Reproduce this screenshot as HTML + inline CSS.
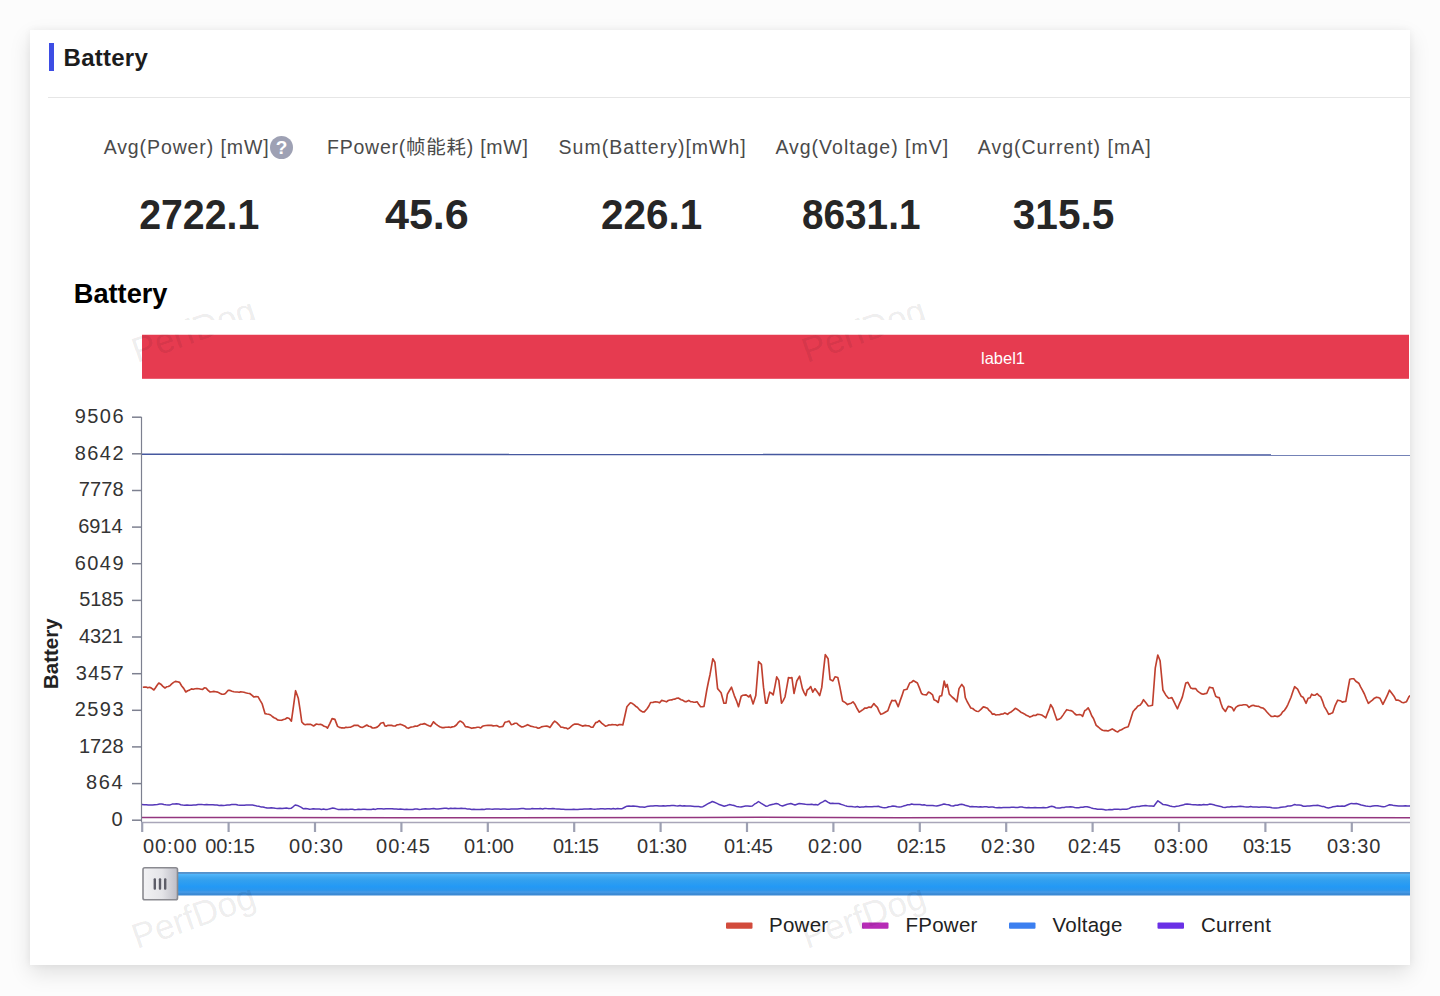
<!DOCTYPE html>
<html><head><meta charset="utf-8"><title>Battery</title>
<style>
*{box-sizing:border-box;margin:0;padding:0}
html,body{width:1440px;height:996px;overflow:hidden;background:#fcfcfc;font-family:"Liberation Sans","Noto Sans CJK SC",sans-serif}
.card{position:absolute;left:30px;top:30px;width:1380px;height:935px;background:#fff;box-shadow:0 8px 20px rgba(0,0,0,0.115),0 0 7px rgba(0,0,0,0.05);overflow:hidden}
.inner{position:absolute;left:-30px;top:-30px;width:1440px;height:996px}
.bar{position:absolute;left:48.5px;top:42.6px;width:5px;height:28.9px;background:#3d4de4}
.h1{position:absolute;left:63.6px;top:41.5px;font-size:24px;font-weight:bold;color:#1c1c1c;letter-spacing:0.25px;line-height:32px;white-space:nowrap}
.sep{position:absolute;left:48px;top:96.5px;width:1400px;height:1.5px;background:#e6e6e6}
.stat{position:absolute;top:0;width:300px;margin-left:-150px;text-align:center}
.stat .l{position:absolute;left:1.4px;right:-1.4px;top:134px;font-size:19.5px;line-height:26px;color:#4a4a4a;white-space:nowrap;letter-spacing:1px}
.stat .v{position:absolute;left:0;right:0;top:191px;font-size:42px;line-height:48px;font-weight:bold;color:#262626;white-space:nowrap}
.vs{display:inline-block;transform-origin:50% 50%}
.q{position:absolute;left:270px;top:135.5px;width:23px;height:23px;border-radius:50%;background:#9ea1b4;color:#fff;font-size:19px;line-height:23px;font-weight:bold;text-align:center}
.chart{position:absolute;left:0;top:0}
.chart text{font-family:"Liberation Sans",sans-serif}
.ct{font-size:27.2px;font-weight:bold;fill:#000}
.lb{font-size:16.5px;fill:#fff}
.yn{font-size:20.5px;font-weight:bold;fill:#222}
.yl{font-size:20px;fill:#333}
.xl{font-size:20px;fill:#333}
.ax{stroke:#7d8090;stroke-width:1.2}
.tk{stroke:#7d8090;stroke-width:1.5}
.xax{stroke:#a9a6b9;stroke-width:1.6}
.xtk{stroke:#9da0b2;stroke-width:2.2}
.lg{font-size:20.5px;fill:#222;letter-spacing:0.25px}
.wm{font-size:35px;fill:rgba(0,0,0,0.085)}
</style></head><body>
<div class="card"><div class="inner">
<div class="bar"></div>
<div class="h1">Battery</div>
<div class="sep"></div>
<div class="stat" style="left:199px"><div class="l" style="letter-spacing:0.9px;left:-12.4px;right:12.4px">Avg(Power) [mW]</div><div class="v"><span class="vs" style="transform:scaleX(0.9355)">2722.1</span></div></div>
<div class="q">?</div>
<div class="stat" style="left:426.5px"><div class="l" style="letter-spacing:0.75px">FPower(帧能耗) [mW]</div><div class="v"><span class="vs" style="transform:scaleX(1.026)">45.6</span></div></div>
<div class="stat" style="left:651.3px"><div class="l">Sum(Battery)[mWh]</div><div class="v"><span class="vs" style="transform:scaleX(0.963)">226.1</span></div></div>
<div class="stat" style="left:860.9px"><div class="l">Avg(Voltage) [mV]</div><div class="v"><span class="vs" style="transform:scaleX(0.922)">8631.1</span></div></div>
<div class="stat" style="left:1063.3px"><div class="l">Avg(Current) [mA]</div><div class="v"><span class="vs" style="transform:scaleX(0.967)">315.5</span></div></div>
<svg class="chart" width="1440" height="996" viewBox="0 0 1440 996">
<text x="73.8" y="302.6" class="ct">Battery</text>
<rect x="142" y="334.5" width="1267" height="44.3" fill="#e63b50"/>
<text x="1003" y="364" class="lb" text-anchor="middle">label1</text>
<text transform="translate(57.6 689) rotate(-90)" class="yn">Battery</text>
<line x1="141.5" y1="417" x2="141.5" y2="822" class="ax"/>
<line x1="132" y1="820.2" x2="141.5" y2="820.2" class="tk"/><text x="111.40" y="826.0" class="yl" textLength="16.80" lengthAdjust="spacing">0</text><line x1="132" y1="783.6" x2="141.5" y2="783.6" class="tk"/><text x="86.10" y="789.4" class="yl" textLength="36.40" lengthAdjust="spacing">864</text><line x1="132" y1="746.9" x2="141.5" y2="746.9" class="tk"/><text x="78.90" y="752.7" class="yl" textLength="44.60" lengthAdjust="spacing">1728</text><line x1="132" y1="710.3" x2="141.5" y2="710.3" class="tk"/><text x="74.70" y="716.1" class="yl" textLength="48.80" lengthAdjust="spacing">2593</text><line x1="132" y1="673.7" x2="141.5" y2="673.7" class="tk"/><text x="75.70" y="679.5" class="yl" textLength="47.80" lengthAdjust="spacing">3457</text><line x1="132" y1="637.0" x2="141.5" y2="637.0" class="tk"/><text x="79.10" y="642.8" class="yl" textLength="44.00" lengthAdjust="spacing">4321</text><line x1="132" y1="600.4" x2="141.5" y2="600.4" class="tk"/><text x="79.30" y="606.2" class="yl" textLength="44.20" lengthAdjust="spacing">5185</text><line x1="132" y1="563.7" x2="141.5" y2="563.7" class="tk"/><text x="74.70" y="569.5" class="yl" textLength="48.80" lengthAdjust="spacing">6049</text><line x1="132" y1="527.1" x2="141.5" y2="527.1" class="tk"/><text x="78.30" y="532.9" class="yl" textLength="44.20" lengthAdjust="spacing">6914</text><line x1="132" y1="490.5" x2="141.5" y2="490.5" class="tk"/><text x="78.70" y="496.3" class="yl" textLength="44.80" lengthAdjust="spacing">7778</text><line x1="132" y1="453.8" x2="141.5" y2="453.8" class="tk"/><text x="74.70" y="459.6" class="yl" textLength="48.80" lengthAdjust="spacing">8642</text><line x1="132" y1="417.2" x2="141.5" y2="417.2" class="tk"/><text x="74.70" y="423.0" class="yl" textLength="48.80" lengthAdjust="spacing">9506</text>
<line x1="141.5" y1="822.5" x2="1420" y2="822.5" class="xax"/>
<line x1="142.2" y1="822" x2="142.2" y2="832" class="xtk"/><text x="142.90" y="853.3" class="xl" textLength="53.80" lengthAdjust="spacing">00:00</text><line x1="228.6" y1="822" x2="228.6" y2="832" class="xtk"/><text x="205.30" y="853.3" class="xl" textLength="49.60" lengthAdjust="spacing">00:15</text><line x1="315.0" y1="822" x2="315.0" y2="832" class="xtk"/><text x="289.10" y="853.3" class="xl" textLength="53.80" lengthAdjust="spacing">00:30</text><line x1="401.4" y1="822" x2="401.4" y2="832" class="xtk"/><text x="376.10" y="853.3" class="xl" textLength="53.80" lengthAdjust="spacing">00:45</text><line x1="487.8" y1="822" x2="487.8" y2="832" class="xtk"/><text x="464.10" y="853.3" class="xl" textLength="49.80" lengthAdjust="spacing">01:00</text><line x1="574.2" y1="822" x2="574.2" y2="832" class="xtk"/><text x="553.10" y="853.3" class="xl" textLength="45.80" lengthAdjust="spacing">01:15</text><line x1="660.6" y1="822" x2="660.6" y2="832" class="xtk"/><text x="637.10" y="853.3" class="xl" textLength="49.80" lengthAdjust="spacing">01:30</text><line x1="747.0" y1="822" x2="747.0" y2="832" class="xtk"/><text x="724.10" y="853.3" class="xl" textLength="48.80" lengthAdjust="spacing">01:45</text><line x1="833.4" y1="822" x2="833.4" y2="832" class="xtk"/><text x="808.10" y="853.3" class="xl" textLength="53.80" lengthAdjust="spacing">02:00</text><line x1="919.8" y1="822" x2="919.8" y2="832" class="xtk"/><text x="897.10" y="853.3" class="xl" textLength="48.80" lengthAdjust="spacing">02:15</text><line x1="1006.2" y1="822" x2="1006.2" y2="832" class="xtk"/><text x="981.10" y="853.3" class="xl" textLength="53.80" lengthAdjust="spacing">02:30</text><line x1="1092.6" y1="822" x2="1092.6" y2="832" class="xtk"/><text x="1068.10" y="853.3" class="xl" textLength="52.80" lengthAdjust="spacing">02:45</text><line x1="1179.0" y1="822" x2="1179.0" y2="832" class="xtk"/><text x="1154.10" y="853.3" class="xl" textLength="53.80" lengthAdjust="spacing">03:00</text><line x1="1265.4" y1="822" x2="1265.4" y2="832" class="xtk"/><text x="1243.10" y="853.3" class="xl" textLength="48.20" lengthAdjust="spacing">03:15</text><line x1="1351.8" y1="822" x2="1351.8" y2="832" class="xtk"/><text x="1326.90" y="853.3" class="xl" textLength="53.40" lengthAdjust="spacing">03:30</text>
<polyline points="142.0,454.2 1412.0,455.0" fill="none" stroke="#46589f" stroke-width="1.5"/>
<polyline points="142.0,817.4 400.0,817.8 700.0,817.6 760.0,817.2 900.0,817.8 1160.0,817.4 1412.0,817.8" fill="none" stroke="#93357f" stroke-width="1.5"/>
<polyline points="142.0,804.6 144.1,804.7 146.2,804.8 148.3,805.1 150.4,804.9 152.5,805.0 154.9,804.7 157.4,804.4 159.8,804.0 161.9,804.1 163.9,804.5 165.9,804.8 168.0,805.0 170.1,804.9 172.2,804.1 174.4,803.9 176.5,803.8 178.6,803.9 180.7,804.7 182.7,805.0 184.8,805.2 187.0,804.9 189.2,805.3 191.4,805.3 193.7,805.0 195.9,804.9 198.1,804.5 200.3,804.4 202.5,804.6 204.6,804.7 206.7,804.5 208.7,804.7 210.8,804.8 212.9,804.7 215.0,805.1 217.1,805.1 219.1,805.4 221.2,805.3 223.3,805.4 225.4,805.3 227.5,805.0 229.6,804.9 231.7,804.6 233.8,804.6 235.9,804.6 237.9,805.1 240.0,805.2 242.1,805.2 244.2,805.2 246.3,805.0 248.4,805.0 250.4,805.1 252.5,805.1 254.6,805.4 256.7,806.0 258.8,806.2 260.8,806.9 262.9,807.0 265.0,807.5 267.1,807.9 269.2,808.0 271.2,807.7 273.3,808.0 275.4,808.3 277.6,808.5 279.9,808.3 282.1,808.6 284.3,808.2 286.5,808.0 288.8,808.4 291.0,808.3 293.1,806.8 295.2,805.0 298.3,805.8 300.9,807.1 303.5,808.8 305.5,808.6 307.5,808.8 309.5,809.2 311.5,809.1 313.5,808.8 315.5,808.9 317.5,808.9 319.5,808.9 321.5,809.4 323.5,809.1 325.5,809.4 327.5,809.4 330.1,808.7 332.7,808.1 335.3,808.6 337.9,809.4 340.0,809.5 342.1,809.2 344.2,809.5 346.2,809.2 348.3,809.4 350.4,809.2 352.5,809.3 354.6,809.7 356.7,809.6 358.8,809.3 360.9,809.6 362.9,809.2 365.0,809.3 367.1,809.6 369.2,809.4 371.3,809.4 373.4,808.9 375.4,809.4 377.5,808.8 379.6,808.7 381.7,808.8 383.8,809.0 385.9,808.7 387.9,808.8 390.0,808.7 392.1,808.7 394.2,809.1 396.2,808.9 398.3,809.2 400.4,809.1 402.5,809.2 404.6,809.5 406.6,809.3 408.7,809.4 410.8,809.4 412.9,809.6 415.0,809.1 417.1,809.0 419.2,809.4 421.2,809.3 423.3,808.9 425.4,808.8 427.5,809.0 429.6,809.1 431.7,808.8 433.8,808.5 435.9,809.0 438.0,808.9 440.1,808.7 442.3,808.5 444.4,808.3 446.5,808.2 448.6,808.8 450.7,808.3 452.8,808.6 454.9,808.3 457.0,808.6 459.1,808.4 461.2,808.3 463.3,808.4 465.4,808.5 467.5,809.1 469.6,808.9 471.7,809.4 473.8,809.2 475.9,809.4 477.9,809.6 480.0,809.4 482.1,809.2 484.2,809.5 486.3,809.1 488.3,808.9 490.4,809.1 492.5,809.2 494.6,808.9 496.7,809.0 498.7,809.1 500.8,809.2 502.9,808.9 505.0,809.0 507.1,809.3 509.1,809.3 511.2,809.1 513.3,809.0 515.4,809.1 517.5,809.0 519.6,808.7 521.6,808.6 523.7,808.6 525.8,809.1 527.9,808.9 530.0,809.1 532.1,808.5 534.1,808.8 536.2,808.7 538.3,808.8 540.4,808.5 542.5,808.9 544.6,808.4 546.6,808.6 548.7,808.7 550.8,808.8 552.9,808.5 555.0,808.8 557.1,808.9 559.1,809.1 561.2,809.3 563.3,809.2 565.4,809.4 567.5,809.5 569.6,809.6 571.6,809.5 573.7,809.2 575.8,809.4 577.9,809.4 580.0,809.2 582.1,809.2 584.1,809.0 586.2,809.1 588.3,809.0 590.4,808.7 592.5,809.0 594.6,809.2 596.6,809.1 598.7,808.9 600.8,808.8 602.9,808.7 605.0,808.9 607.1,808.8 609.2,808.7 611.2,809.0 613.3,808.5 615.4,808.9 617.5,808.5 619.6,808.8 621.7,808.8 624.3,807.5 626.9,806.2 629.0,806.0 631.0,806.2 633.1,806.0 635.4,806.3 637.7,806.6 640.0,807.0 642.3,806.9 644.6,807.3 646.7,806.6 648.7,806.3 650.8,806.0 652.9,806.1 655.0,805.8 657.1,805.7 659.1,806.1 661.2,806.0 663.3,805.8 665.4,806.0 667.5,805.7 669.6,805.8 671.7,805.5 673.7,805.6 675.8,805.8 677.9,805.9 680.0,805.6 682.1,805.9 684.2,805.7 686.2,805.9 688.3,805.9 690.4,805.9 692.5,806.2 694.6,806.5 696.7,806.6 698.7,806.6 700.8,806.9 702.9,806.7 705.2,805.3 707.6,803.9 709.9,802.8 712.3,801.5 714.4,802.3 716.4,803.1 718.5,804.2 721.4,805.2 724.2,806.2 726.8,805.5 729.4,804.6 731.7,805.1 734.1,805.5 736.4,806.4 738.8,806.7 741.0,806.9 743.3,806.4 745.5,806.1 747.8,806.0 750.0,806.3 752.3,806.0 754.4,804.2 756.4,803.1 758.5,801.5 760.9,803.1 763.4,804.6 765.8,806.2 767.9,805.9 770.0,804.9 772.1,804.4 774.2,804.0 776.2,803.5 778.3,804.0 780.4,805.4 782.5,806.0 784.6,805.2 786.6,804.5 788.7,803.9 790.8,803.5 792.9,804.3 795.0,805.0 797.1,804.2 799.2,803.5 801.3,803.7 803.4,803.9 805.4,804.2 807.5,804.4 809.6,804.4 811.7,804.3 813.7,804.7 815.8,804.6 817.9,805.0 820.3,803.2 822.8,801.9 825.2,800.4 827.8,802.1 830.4,803.5 832.5,803.3 834.6,803.4 836.7,803.4 838.8,803.5 840.8,804.3 842.9,804.9 845.0,805.6 847.1,806.2 849.2,806.5 851.3,806.4 853.4,806.7 855.4,806.9 857.5,806.5 859.6,807.2 861.7,807.0 863.8,807.0 865.9,806.6 867.9,806.7 870.0,806.7 872.1,806.8 874.1,806.4 876.2,806.4 878.3,806.2 880.4,807.0 882.5,807.4 884.6,807.7 886.7,807.5 888.8,806.8 890.8,806.5 892.9,806.0 895.0,806.2 897.1,806.8 899.2,807.0 901.3,806.7 903.4,806.1 905.5,805.6 907.5,804.8 909.6,804.7 911.7,804.0 913.8,804.4 915.9,804.6 917.9,804.5 920.0,804.6 922.1,804.9 924.2,804.8 926.3,805.4 928.4,805.5 930.4,805.4 932.5,805.4 934.6,805.8 936.7,806.0 939.1,805.4 941.6,804.8 944.0,804.0 946.3,804.5 948.6,804.7 951.0,805.7 953.3,806.0 955.4,805.3 957.5,805.3 959.6,804.5 961.7,804.2 963.8,804.7 965.9,805.6 967.9,805.9 970.0,806.7 972.1,806.5 974.2,806.7 976.3,806.8 978.4,806.9 980.4,806.8 982.5,807.0 984.6,806.7 986.7,806.7 988.8,807.2 990.9,806.9 992.9,807.1 995.0,807.5 997.1,807.7 999.2,807.5 1001.3,807.7 1003.3,807.6 1005.4,807.5 1007.5,807.6 1009.6,807.4 1011.7,807.2 1013.8,807.2 1015.8,807.4 1017.9,807.4 1020.0,807.1 1022.2,807.0 1024.3,807.6 1026.5,807.7 1028.6,807.6 1030.8,807.7 1032.9,807.7 1035.0,807.5 1037.1,807.7 1039.1,807.7 1041.2,807.8 1043.3,807.4 1045.4,807.7 1047.5,807.5 1049.6,806.7 1051.7,806.2 1053.8,806.8 1055.8,807.7 1057.9,808.1 1060.0,807.9 1062.1,807.6 1064.2,807.5 1066.2,806.9 1068.3,807.0 1070.4,806.7 1072.5,806.9 1074.6,807.5 1076.7,807.7 1078.8,807.7 1080.8,807.3 1082.9,807.2 1085.0,806.7 1087.1,806.7 1089.2,807.2 1091.3,807.9 1093.3,808.4 1095.4,808.7 1097.5,809.2 1099.6,809.2 1101.7,809.3 1103.7,809.6 1105.8,809.9 1107.9,809.8 1110.0,809.5 1112.1,809.8 1114.2,809.3 1116.3,809.3 1118.3,809.3 1120.4,809.5 1122.5,809.2 1124.6,809.2 1126.7,809.2 1128.8,808.6 1130.8,807.6 1132.9,807.1 1135.0,807.0 1137.1,806.4 1139.2,806.4 1141.2,806.0 1143.3,805.7 1145.4,805.6 1147.5,805.8 1149.6,805.9 1151.7,806.0 1153.8,806.2 1155.8,803.5 1157.9,800.8 1160.5,802.7 1163.1,804.6 1165.4,804.8 1167.7,805.3 1170.0,805.9 1172.3,806.4 1174.6,806.7 1176.7,806.3 1178.8,806.0 1180.8,805.4 1182.9,805.1 1185.0,804.3 1187.1,804.0 1189.2,804.3 1191.3,804.6 1193.3,804.8 1195.4,804.7 1197.5,805.0 1199.5,804.8 1201.5,805.0 1203.5,804.5 1205.5,804.8 1207.5,804.7 1209.5,804.1 1211.5,804.2 1213.8,804.7 1216.1,805.6 1218.3,805.9 1220.6,806.4 1222.9,807.3 1225.1,807.4 1227.3,807.0 1229.5,807.1 1231.6,806.6 1233.8,806.7 1236.0,806.7 1238.2,806.5 1240.3,806.3 1242.4,806.4 1244.4,806.8 1246.5,807.0 1248.6,807.1 1250.7,806.6 1252.8,806.9 1254.9,807.1 1256.9,807.0 1259.0,807.2 1261.1,807.1 1263.3,807.0 1265.5,807.1 1267.7,807.2 1269.8,807.3 1272.0,807.8 1274.2,807.9 1276.4,808.0 1278.7,807.7 1281.0,807.2 1283.3,806.9 1285.6,806.8 1287.9,806.0 1290.2,805.9 1292.4,805.4 1294.7,804.5 1296.8,805.1 1299.0,805.0 1301.1,805.3 1303.3,806.2 1305.4,806.3 1307.4,806.1 1309.5,806.1 1311.5,805.7 1313.5,805.6 1315.6,805.5 1317.6,805.3 1319.7,805.8 1321.9,806.4 1324.0,806.6 1326.2,807.5 1328.3,807.9 1330.6,807.6 1332.9,806.8 1335.2,806.4 1337.5,806.0 1339.8,806.2 1342.1,806.1 1344.4,806.3 1346.7,805.2 1349.0,804.2 1351.3,803.4 1353.8,803.7 1356.4,803.6 1358.9,804.2 1361.2,805.0 1363.5,805.4 1365.8,805.9 1368.1,806.3 1370.4,806.4 1372.7,806.1 1374.9,805.8 1377.2,805.7 1379.2,806.1 1381.3,806.4 1383.3,806.8 1385.4,806.4 1387.4,805.6 1389.5,804.8 1391.8,805.0 1394.0,805.6 1396.3,805.8 1398.6,806.0 1400.8,806.1 1403.1,806.1 1405.3,805.7 1407.5,806.0 1409.8,805.9 1412.0,805.6" fill="none" stroke="#5638b8" stroke-width="1.5" stroke-linejoin="round"/>
<polyline points="142.8,687.2 144.5,687.1 146.1,687.1 147.8,687.8 149.4,687.3 151.1,687.9 153.9,690.0 155.5,687.7 157.1,685.2 158.8,683.0 160.8,684.2 162.9,686.3 165.0,688.0 166.6,686.8 168.3,686.5 169.9,685.8 171.7,683.9 173.6,682.4 175.4,681.4 177.5,681.8 179.6,682.4 181.7,686.0 183.7,688.4 185.8,692.0 187.7,690.7 189.5,690.1 191.4,688.9 193.3,689.3 195.1,688.8 197.0,688.6 199.0,688.8 201.0,689.3 202.7,689.4 204.3,687.9 206.0,688.0 208.1,690.4 210.1,692.0 212.0,691.7 213.8,691.4 215.7,691.7 217.8,692.1 219.8,693.2 221.9,694.2 223.7,694.2 225.4,693.5 228.2,690.3 230.1,690.4 232.0,691.2 233.9,691.7 235.8,692.0 237.4,692.0 239.1,692.3 240.7,691.9 242.3,692.0 244.0,692.3 245.6,692.8 247.6,693.3 249.7,693.5 251.8,695.2 253.9,697.0 255.9,696.6 258.0,696.7 260.1,700.4 262.2,703.9 265.0,713.6 266.9,714.0 268.7,714.3 270.6,715.0 272.3,716.5 274.1,717.7 275.8,718.4 277.5,719.9 279.6,720.2 281.7,720.3 283.5,719.5 285.4,719.0 287.2,717.8 289.3,718.5 291.4,721.2 293.5,706.2 295.6,690.7 298.3,698.3 300.1,709.9 301.8,722.0 303.6,723.9 305.3,724.7 307.1,724.2 309.0,724.4 310.8,724.4 313.6,726.0 316.4,724.0 318.5,724.5 320.6,724.4 322.3,725.0 324.1,726.3 325.8,726.7 327.5,728.2 329.8,723.6 332.1,718.6 334.9,719.4 337.6,726.4 339.4,727.4 341.1,727.8 342.7,727.8 344.3,728.0 346.0,727.2 347.6,727.5 349.2,727.3 350.8,727.1 352.6,726.3 354.3,725.3 356.1,725.3 357.8,725.3 359.4,726.4 361.0,727.2 362.6,727.4 364.7,726.2 366.8,725.0 368.7,726.2 370.5,726.5 372.4,728.0 374.0,727.9 375.6,727.6 377.2,727.1 378.9,725.7 380.7,723.2 383.5,722.5 384.9,726.0 386.5,726.1 388.1,725.3 389.7,725.3 391.6,725.4 393.4,726.0 395.3,726.0 396.9,724.9 398.5,724.8 400.1,724.2 401.8,724.7 403.5,725.4 405.1,726.2 406.8,727.8 408.5,728.3 410.1,727.4 411.7,727.0 413.3,726.7 415.2,726.1 417.0,726.2 418.9,725.3 420.7,724.3 422.6,724.1 424.4,723.6 427.2,725.0 428.9,725.8 430.7,726.4 433.5,721.8 435.6,723.9 437.6,725.4 439.7,726.7 441.8,727.6 443.9,727.6 445.6,727.2 447.2,727.2 448.9,727.0 450.5,727.5 452.2,726.9 454.3,726.5 456.4,725.0 458.1,722.7 459.9,721.1 461.6,721.8 463.3,723.2 465.4,726.7 467.5,726.9 469.6,727.5 471.7,728.3 473.5,727.9 475.4,727.7 477.2,727.2 478.9,727.3 480.7,728.0 482.4,726.3 484.2,725.7 486.0,725.5 487.9,725.3 489.7,725.3 491.4,725.4 493.2,725.9 494.9,725.7 496.7,725.6 499.4,727.0 501.1,726.7 502.9,726.4 505.0,722.2 507.1,721.8 509.2,721.1 511.2,724.6 513.1,724.3 514.9,723.2 516.8,723.2 518.4,724.9 520.1,726.0 521.7,727.0 523.7,726.6 525.6,725.8 527.6,724.7 530.4,726.1 532.3,726.5 534.2,727.0 536.2,727.2 538.1,728.2 539.8,727.9 541.4,726.9 543.1,726.5 544.7,726.2 546.4,726.1 548.1,726.4 549.9,727.5 551.5,725.2 553.1,722.8 554.7,721.2 556.8,722.7 558.9,724.8 561.0,727.2 562.7,727.2 564.5,727.9 566.2,728.0 567.9,728.9 569.5,728.0 571.2,726.4 572.8,725.0 574.8,724.1 576.9,724.0 578.8,724.4 580.6,725.2 582.5,726.1 585.3,725.4 587.2,725.7 589.1,725.9 591.0,727.1 592.9,727.2 595.7,722.6 597.5,722.1 599.2,720.6 601.9,723.3 603.6,724.7 605.4,726.1 607.0,725.7 608.7,724.9 610.3,725.0 612.1,724.6 613.9,724.8 615.7,724.7 617.4,725.4 619.2,724.6 621.0,724.5 622.8,725.0 624.8,716.3 626.9,706.7 628.6,704.8 630.4,702.8 632.1,703.3 633.9,704.6 635.6,706.2 637.3,707.2 639.1,709.3 640.8,710.8 642.5,711.9 644.3,711.9 647.1,708.8 648.9,706.0 650.6,702.5 653.0,702.4 655.4,701.8 657.5,702.0 659.6,702.8 661.7,700.4 664.1,701.0 666.5,701.8 668.2,700.5 670.0,700.0 671.7,699.9 673.3,699.2 675.0,699.1 676.6,698.2 678.3,698.0 681.1,699.7 682.7,700.1 684.4,701.4 686.0,701.8 688.8,700.4 690.5,701.6 692.2,701.8 693.8,702.2 695.5,702.1 697.1,701.8 698.9,704.6 700.6,706.7 702.3,706.8 704.0,706.4 706.8,690.0 708.4,682.0 710.0,674.7 712.8,658.8 714.9,662.2 717.6,688.6 719.4,690.7 721.1,692.8 723.9,703.2 726.0,703.2 727.4,694.2 729.5,690.5 731.5,687.2 734.3,695.6 736.4,700.6 738.5,706.7 741.2,696.2 742.9,695.3 744.5,695.1 746.1,694.9 748.9,697.0 750.3,694.9 753.1,703.9 755.8,695.6 758.6,661.5 761.4,664.3 763.5,687.2 765.6,703.2 766.9,703.2 769.7,692.1 771.5,693.2 773.2,694.9 775.0,686.1 776.7,676.8 778.8,680.3 781.5,703.2 783.2,700.6 785.0,697.0 786.8,687.2 788.5,677.5 790.2,678.0 791.9,677.5 794.0,693.5 796.8,681.0 799.6,676.1 802.4,688.6 804.1,692.6 805.8,695.6 807.2,690.0 809.0,688.8 810.7,686.5 812.8,692.1 814.9,688.6 816.5,690.8 818.1,693.0 819.7,695.6 821.8,687.2 823.5,670.6 825.3,654.6 828.1,658.8 830.1,679.6 832.9,681.0 835.0,676.8 837.8,677.5 839.9,687.2 842.6,701.1 844.2,701.9 845.9,703.1 847.5,704.6 849.3,703.8 851.2,703.2 853.0,701.8 855.1,704.6 857.2,708.8 859.3,712.2 861.2,710.8 863.0,709.6 864.9,708.0 867.0,708.1 869.0,707.1 871.1,707.4 873.9,703.6 875.6,705.7 877.4,707.4 879.1,711.3 880.8,714.3 882.5,713.7 884.3,712.8 886.0,711.7 887.8,710.8 889.8,705.2 891.9,700.4 893.6,700.7 895.4,700.4 898.2,706.7 900.1,700.9 901.9,695.9 903.8,690.0 906.9,689.3 909.7,683.0 911.5,682.3 913.2,680.6 915.3,681.7 917.4,683.0 919.5,688.1 921.5,693.5 923.1,694.5 924.8,694.7 926.4,694.9 928.5,692.1 930.5,693.1 932.6,694.9 934.0,699.7 936.1,700.7 938.2,702.5 939.6,696.2 941.7,695.6 944.2,681.0 945.8,687.2 947.2,684.4 949.3,694.2 952.1,697.0 954.5,699.0 956.9,701.8 959.0,688.6 961.8,684.4 963.9,687.2 965.3,697.6 967.1,701.5 969.0,704.9 970.8,708.0 972.7,708.5 974.6,710.1 976.6,711.2 978.5,711.5 980.9,709.4 983.3,706.9 985.4,707.4 987.5,708.3 989.1,710.4 990.8,711.9 992.4,714.3 994.1,713.9 995.8,715.0 997.6,714.8 999.3,714.7 1001.2,714.1 1003.0,714.0 1004.9,712.9 1007.6,714.3 1009.5,712.7 1011.5,711.7 1013.4,710.2 1015.3,708.3 1017.1,709.3 1019.0,710.6 1020.8,712.2 1022.6,713.0 1024.4,713.9 1026.3,715.2 1028.1,715.9 1029.9,717.1 1031.8,716.3 1033.7,715.3 1035.6,715.5 1037.5,714.3 1039.6,714.5 1041.7,715.0 1043.8,716.4 1045.8,717.8 1047.4,713.5 1049.1,709.4 1050.7,704.6 1052.8,708.0 1054.8,713.9 1056.9,719.9 1059.0,719.3 1061.1,717.8 1063.0,715.1 1064.8,712.4 1066.7,709.7 1068.8,710.2 1070.8,710.6 1072.7,711.5 1074.5,713.5 1076.4,715.0 1078.0,714.7 1079.6,714.5 1081.2,715.0 1082.6,716.4 1084.7,710.8 1086.5,709.6 1088.2,707.8 1090.0,711.4 1091.7,715.7 1093.5,718.5 1096.2,725.4 1098.3,727.0 1100.4,728.9 1102.5,730.3 1104.3,730.6 1106.2,730.6 1108.0,731.0 1110.1,730.0 1112.2,728.9 1114.1,730.0 1115.9,731.2 1117.8,731.9 1119.6,730.4 1121.5,729.8 1123.3,728.6 1124.9,727.7 1126.6,727.2 1128.2,726.8 1129.8,722.0 1131.5,716.6 1133.1,711.5 1134.7,709.7 1136.3,708.1 1137.9,706.0 1140.0,705.3 1141.8,703.0 1143.5,699.7 1145.9,702.8 1148.3,706.0 1150.4,705.8 1152.5,705.3 1155.3,667.8 1157.8,655.0 1160.1,660.8 1162.9,690.0 1165.7,694.9 1168.5,698.3 1170.2,698.0 1171.9,697.6 1173.8,701.3 1175.6,705.2 1177.5,708.8 1179.1,704.7 1180.8,700.9 1182.4,696.9 1184.1,689.9 1185.8,683.0 1187.9,682.4 1190.7,687.9 1192.3,688.6 1194.0,688.6 1195.6,688.6 1197.3,690.8 1199.0,692.1 1201.1,693.6 1203.2,694.2 1205.0,693.6 1206.7,693.5 1209.4,687.2 1211.2,687.6 1212.9,687.9 1215.7,696.2 1217.5,697.4 1219.2,697.6 1220.9,703.2 1222.6,708.0 1225.4,711.5 1228.2,706.4 1230.3,706.8 1232.4,708.0 1233.8,710.8 1235.8,707.4 1237.9,705.9 1240.0,705.3 1241.7,705.2 1243.5,704.7 1245.2,704.8 1246.9,705.0 1249.0,707.4 1251.1,705.9 1253.2,705.3 1255.0,705.9 1256.9,706.3 1258.8,706.4 1260.8,707.6 1262.9,708.0 1265.0,709.7 1267.1,712.2 1269.2,714.5 1271.2,716.4 1273.2,716.5 1275.1,715.9 1277.0,716.6 1278.9,716.1 1280.8,714.7 1282.6,711.9 1284.5,710.3 1286.2,707.8 1288.0,704.3 1291.0,697.2 1292.8,691.8 1294.6,686.7 1297.6,689.2 1299.3,692.7 1301.1,696.2 1303.1,697.2 1306.1,703.3 1308.1,698.2 1310.1,697.7 1311.6,694.2 1313.4,695.2 1315.2,695.2 1317.2,693.7 1319.0,695.6 1320.7,696.7 1322.5,701.1 1324.2,706.3 1326.5,710.2 1328.7,714.3 1330.7,713.6 1332.7,712.8 1335.2,705.3 1337.7,700.2 1340.3,700.7 1342.3,702.2 1344.0,701.6 1345.8,701.4 1347.8,690.0 1349.8,679.2 1351.8,678.8 1353.8,678.7 1355.8,681.2 1358.8,683.2 1360.6,686.9 1362.4,690.2 1364.4,694.0 1366.4,699.0 1368.4,703.3 1370.4,701.7 1372.4,700.2 1374.4,698.2 1376.4,697.2 1378.2,697.5 1379.9,698.2 1382.9,704.3 1385.5,699.2 1387.5,694.8 1389.5,690.2 1391.8,693.2 1394.0,696.2 1396.0,700.2 1397.8,700.0 1399.5,700.7 1401.5,702.2 1403.5,702.7 1406.5,701.7 1409.0,696.7 1412.0,694.0" fill="none" stroke="#c0402f" stroke-width="1.65" stroke-linejoin="round"/>
<defs>
<linearGradient id="sg" x1="0" y1="0" x2="0" y2="1">
<stop offset="0" stop-color="#5690c8"/><stop offset="0.07" stop-color="#5597d2"/><stop offset="0.1" stop-color="#4fb6fb"/><stop offset="0.22" stop-color="#40a8f1"/><stop offset="0.35" stop-color="#33a0ee"/><stop offset="0.62" stop-color="#2399f5"/><stop offset="0.78" stop-color="#2c96ec"/><stop offset="0.84" stop-color="#4499e6"/><stop offset="0.89" stop-color="#4298e4"/><stop offset="0.92" stop-color="#3b8bd6"/><stop offset="1" stop-color="#3a88d2"/>
</linearGradient>
<linearGradient id="hg" x1="0" y1="0" x2="1" y2="0">
<stop offset="0" stop-color="#f2f2f4"/><stop offset="0.55" stop-color="#e4e4e8"/><stop offset="1" stop-color="#bdbdc6"/>
</linearGradient>
</defs>
<rect x="176" y="872" width="1300" height="23.5" fill="url(#sg)"/>
<rect x="143" y="867.8" width="34.5" height="32" rx="1.8" fill="url(#hg)" stroke="#8a8a90" stroke-width="1.6"/>
<rect x="153.6" y="878.2" width="2.4" height="11.5" rx="1" fill="#5d5d68"/>
<rect x="158.8" y="878.2" width="2.4" height="11.5" rx="1" fill="#5d5d68"/>
<rect x="164" y="878.2" width="2.4" height="11.5" rx="1" fill="#5d5d68"/>
<rect x="726" y="922.5" width="26.5" height="6.3" rx="1" fill="#d24b3c"/>
<text x="769" y="931.5" class="lg">Power</text>
<rect x="862" y="922.5" width="26.5" height="6.3" rx="1" fill="#b62bb6"/>
<text x="905.5" y="931.5" class="lg">FPower</text>
<rect x="1009" y="922.5" width="26.5" height="6.3" rx="1" fill="#3b7ff0"/>
<text x="1052.5" y="931.5" class="lg">Voltage</text>
<rect x="1157.5" y="922.5" width="26.5" height="6.3" rx="1" fill="#6a30e6"/>
<text x="1201" y="931.5" class="lg">Current</text>
<text x="137" y="363" class="wm" transform="rotate(-19.5 137 363)">PerfDog</text><text x="807" y="363" class="wm" transform="rotate(-19.5 807 363)">PerfDog</text><text x="137" y="949" class="wm" transform="rotate(-19.5 137 949)">PerfDog</text><text x="807" y="949" class="wm" transform="rotate(-19.5 807 949)">PerfDog</text>
<rect x="142" y="320" width="1268" height="14.5" fill="#fff"/>
</svg>
</div></div>
</body></html>
